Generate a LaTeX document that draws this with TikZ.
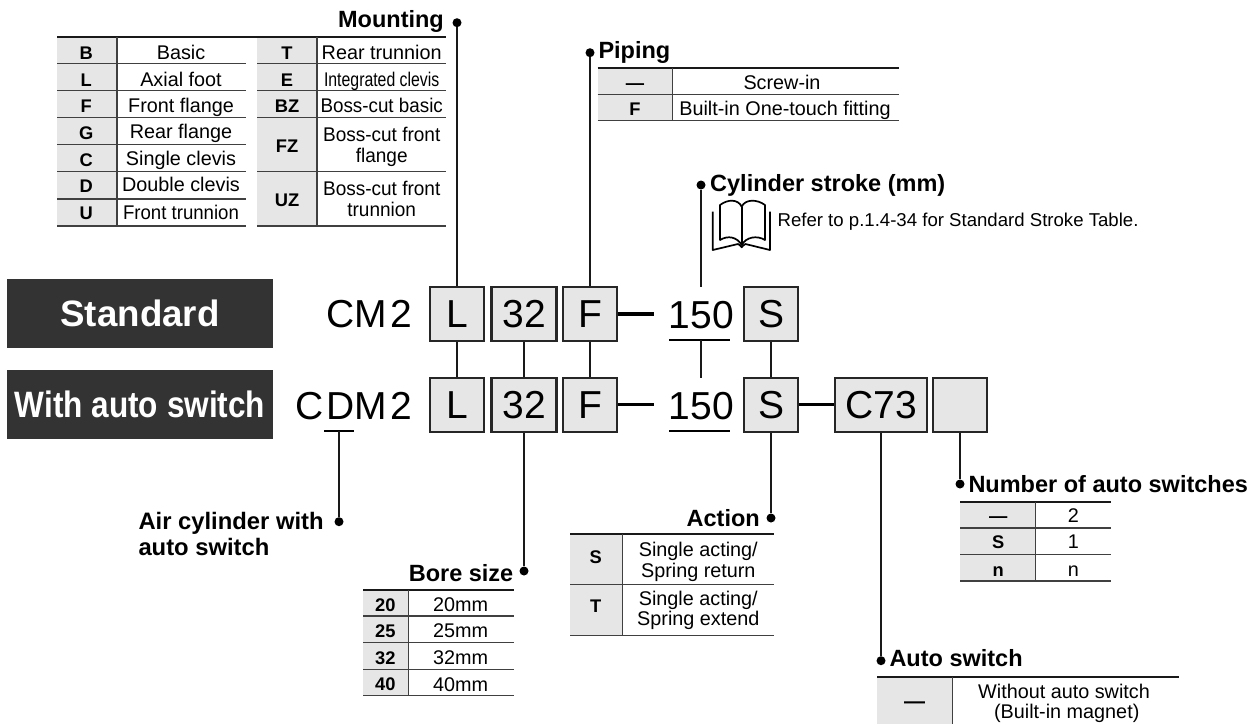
\documentclass[tikz,border=0pt]{standalone}
\usepackage{fontspec}
\setmainfont{Liberation Sans}
\definecolor{banner}{HTML}{333333}
\definecolor{cellgray}{HTML}{E6E6E6}
\tikzstyle{txt}=[font=\fontsize{19.8}{20.5}\selectfont,anchor=base,inner sep=0pt]
\tikzstyle{keytxt}=[font=\fontsize{18.3}{20.5}\selectfont\bfseries,anchor=base,inner sep=0pt]
\tikzstyle{titletxt}=[font=\fontsize{23.5}{26}\selectfont\bfseries,anchor=base,inner sep=0pt]
\tikzstyle{codetxt}=[font=\fontsize{39}{42}\selectfont,anchor=base,inner sep=0pt]
\tikzstyle{partbox}=[draw=black!85,line width=2.2pt,fill=cellgray,minimum height=54pt,inner sep=0pt,font=\fontsize{39}{42}\selectfont]
\tikzstyle{series}=[fill=banner,text=white,inner sep=0pt,font=\fontsize{36.7}{40}\selectfont\bfseries]
\tikzstyle{pindot}=[circle,fill=black,minimum size=9pt,inner sep=0pt]
\tikzstyle{lead}=[draw=black!90,line width=2.1pt]
\tikzstyle{bar}=[draw=black,line width=3.2pt]
\tikzstyle{toprule}=[draw=black!90,line width=2pt]
\tikzstyle{midrule}=[draw=black!75,line width=1.2pt]
\tikzstyle{cellfill}=[fill=cellgray]
\tikzstyle{bookline}=[draw=black,line width=1.7pt,line join=round]

\begin{document}
\begin{tikzpicture}[x=1pt,y=-1pt]
\useasboundingbox (0,0) rectangle (1258,724);

% series banners
\node[series,minimum width=266pt,minimum height=68.7pt] (std) at (140,313.3) {};
\node[series,minimum width=266pt,minimum height=69pt] (sw) at (140,404.5) {};
\node[series,anchor=base] (stdt) at (140,326) {Standard};
\node[series,anchor=base] (swt) at (140,417.3) {\scalebox{0.86}[1]{With auto switch}};

% model code, upper row
\node[codetxt,anchor=base east] (cm) at (412,327.3) {CM\kern3pt 2};
\node[partbox,minimum width=54pt] (L1) at (457,313.7) {L};
\node[partbox,minimum width=65pt] (B1) at (524,313.7) {32};
\node[partbox,minimum width=54pt] (F1) at (590,313.7) {F};
\node[codetxt] (st1) at (701.5,328.3) {150};
\node[partbox,minimum width=54pt] (S1) at (771,313.7) {S};

% model code, lower row
\node[codetxt,anchor=base east] (cdm) at (412,419) {C\kern3pt DM\kern3pt 2};
\node[partbox,minimum width=54pt] (L2) at (457,404.7) {L};
\node[partbox,minimum width=65pt] (B2) at (524,404.7) {32};
\node[partbox,minimum width=54pt] (F2) at (590,404.7) {F};
\node[codetxt] (st2) at (701.5,419) {150};
\node[partbox,minimum width=54pt] (S2) at (771,404.7) {S};
\node[partbox,minimum width=92pt] (C2) at (881,404.7) {C73};
\node[partbox,minimum width=54pt] (N2) at (960,404.7) {};

% underlines and free line ends
\coordinate (st1a) at (669,340);
\coordinate (st1b) at (729.5,340);
\coordinate (st1c) at (701,340);
\coordinate (st1t) at (701,286.5);
\coordinate (st2a) at (669,431);
\coordinate (st2b) at (729.5,431);
\coordinate (st2c) at (701,378);
\coordinate (da) at (324,431);
\coordinate (db) at (354,431);
\coordinate (dc) at (339,431);
\coordinate (d1) at (653.7,313.5);
\coordinate (d2) at (653.7,404.5);
\path[midrule,line width=1.8pt,draw=black] (st1a) -- (st1b);
\path[midrule,line width=1.8pt,draw=black] (st2a) -- (st2b);
\path[midrule,line width=1.8pt,draw=black] (da) -- (db);
\path[bar,line width=4pt] (F1.east |- d1) -- (d1);
\path[bar] (F2.east |- d2) -- (d2);
\path[bar] (S2.east) -- (C2.west);

% pins
\node[pindot] (pmount) at (457,22.7) {};
\node[pindot] (ppipe) at (590,52.7) {};
\node[pindot] (pstroke) at (701,185) {};
\node[pindot] (pair) at (339,521.7) {};
\node[pindot] (pbore) at (524,571) {};
\node[pindot] (pact) at (771,518) {};
\node[pindot] (pnum) at (960,484) {};
\node[pindot] (psw) at (881,660.7) {};

% leads
\path[lead] (pmount) -- (L1.north);
\path[lead] (ppipe) -- (F1.north);
\path[lead] (pstroke) -- (st1t);
\path[lead] (L1.south) -- (L2.north);
\path[lead] (B1.south) -- (B2.north);
\path[lead] (F1.south) -- (F2.north);
\path[lead] (st1c) -- (st2c);
\path[lead] (S1.south) -- (S2.north);
\path[lead] (dc) -- (pair);
\path[lead] (B2.south) -- (pbore);
\path[lead] (S2.south) -- (pact);
\path[lead] (C2.south) -- (psw);
\path[lead] (N2.south) -- (pnum);

% Mounting
\node[titletxt,anchor=base east] (tmount) at (444,27.3) {Mounting};
\fill[cellfill] (57,37) rectangle (117,226);
\fill[cellfill] (257,37) rectangle (317,226);
\path[toprule] (57,36.7) -- (446,36.7);
\path[midrule] (57,63.3) -- (245.7,63.3);
\path[midrule] (57,90.3) -- (245.7,90.3);
\path[midrule] (57,117.3) -- (245.7,117.3);
\path[midrule] (57,144.7) -- (245.7,144.7);
\path[midrule] (57,171.7) -- (245.7,171.7);
\path[midrule] (57,199) -- (245.7,199);
\path[midrule] (57,226) -- (245.7,226);
\path[midrule] (257,63.3) -- (446,63.3);
\path[midrule] (257,90.3) -- (446,90.3);
\path[midrule] (257,117.3) -- (446,117.3);
\path[midrule] (257,171.7) -- (446,171.7);
\path[midrule] (257,226) -- (446,226);
\path[midrule] (117,37) -- (117,226);
\path[midrule] (317,37) -- (317,226);
\node[keytxt] (kB) at (86.3,59.5) {B};
\node[keytxt] (kL) at (86.3,86.5) {L};
\node[keytxt] (kF) at (86.3,112.5) {F};
\node[keytxt] (kG) at (86.3,139.5) {G};
\node[keytxt] (kC) at (86.3,166) {C};
\node[keytxt] (kD) at (86.3,192.5) {D};
\node[keytxt] (kU) at (86.3,219.5) {U};
\node[txt] (vB) at (181,59) {Basic};
\node[txt] (vL) at (181,86) {Axial foot};
\node[txt] (vF) at (181,112) {Front flange};
\node[txt] (vG) at (181,138.7) {Rear flange};
\node[txt] (vC) at (181,165.7) {Single clevis};
\node[txt] (vD) at (181,191.7) {Double clevis};
\node[txt] (vU) at (181,219) {\scalebox{0.94}[1]{Front trunnion}};
\node[keytxt] (kT) at (287,59.5) {T};
\node[keytxt] (kE) at (287,86.5) {E};
\node[keytxt] (kBZ) at (287,112.5) {BZ};
\node[keytxt] (kFZ) at (287,152.7) {FZ};
\node[keytxt] (kUZ) at (287,206.7) {UZ};
\node[txt] (vT) at (381.7,59) {Rear trunnion};
\node[txt] (vE) at (381.7,86) {\scalebox{0.8}[1]{Integrated clevis}};
\node[txt] (vBZ) at (381.7,112) {\scalebox{0.95}[1]{Boss-cut basic}};
\node[txt,align=center] (vFZ) at (381.7,162) {\scalebox{0.96}[1]{Boss-cut front}\\\scalebox{0.96}[1]{flange}};
\node[txt,align=center] (vUZ) at (381.7,216.2) {\scalebox{0.96}[1]{Boss-cut front}\\\scalebox{0.96}[1]{trunnion}};

% Piping
\node[titletxt,anchor=base west] (tpipe) at (598.3,58.3) {Piping};
\fill[cellfill] (597.5,68) rectangle (672.6,120.7);
\path[toprule] (597.5,67.7) -- (899,67.7);
\path[midrule] (597.5,94.3) -- (899,94.3);
\path[midrule] (597.5,120.7) -- (899,120.7);
\path[midrule] (672.6,68) -- (672.6,120.7);
\node[keytxt] (kpa) at (635,89.3) {—};
\node[keytxt] (kpb) at (635,115.3) {F};
\node[txt] (vpa) at (782,89.3) {Screw-in};
\node[txt] (vpb) at (785,115.3) {Built-in One-touch fitting};

% Cylinder stroke
\node[titletxt,anchor=base west] (tstroke) at (710,191.7) {Cylinder stroke (mm)};
\path[bookline,fill=white] (712.7,211.7) -- (712.7,250) -- (738,244) .. controls (740,244) and (741,247.3) .. (741.7,247.3) .. controls (742.4,247.3) and (743.4,244) .. (745.4,244) -- (770,250) -- (770,211.7);
\path[bookline,fill=white] (720,205) .. controls (728,199) and (738,199) .. (741.7,206.7) .. controls (745,199) and (757,199) .. (765,205) -- (765,240) .. controls (757,235) and (746,237) .. (741.7,245) .. controls (737,237) and (728,235) .. (720,240) -- cycle;
\path[bookline] (741.7,206.7) -- (741.7,245);
\node[txt,anchor=base west,font=\fontsize{18.6}{20.5}\selectfont] (vstroke) at (777.4,226.7) {Refer to p.1.4-34 for Standard Stroke Table.};

% Air cylinder with auto switch
\node[titletxt,anchor=base west,align=left,font=\fontsize{23.8}{26}\selectfont\bfseries] (tair) at (138.3,555.3) {Air cylinder with\\auto switch};

% Bore size
\node[titletxt,anchor=base east] (tbore) at (513.5,581.7) {Bore size};
\fill[cellfill] (363.3,590) rectangle (408.3,695.7);
\path[toprule] (363.3,589.7) -- (514,589.7);
\path[midrule] (363.3,616) -- (514,616);
\path[midrule] (363.3,642.7) -- (514,642.7);
\path[midrule] (363.3,669.3) -- (514,669.3);
\path[midrule] (363.3,695.7) -- (514,695.7);
\path[midrule] (408.3,590) -- (408.3,695.7);
\node[keytxt] (k20) at (385.3,611) {20};
\node[keytxt] (k25) at (385.3,637) {25};
\node[keytxt] (k32) at (385.3,664) {32};
\node[keytxt] (k40) at (385.3,690.5) {40};
\node[txt] (v20) at (460.7,611.3) {20mm};
\node[txt] (v25) at (460.7,637.7) {25mm};
\node[txt] (v32) at (460.7,664.3) {32mm};
\node[txt] (v40) at (460.7,691) {40mm};

% Action
\node[titletxt,anchor=base east] (tact) at (760,526.7) {Action};
\fill[cellfill] (570,534) rectangle (622.3,635.3);
\path[toprule] (570,534) -- (774,534);
\path[midrule] (570,584.7) -- (774,584.7);
\path[midrule] (570,635.3) -- (774,635.3);
\path[midrule] (622.3,534) -- (622.3,635.3);
\node[keytxt] (kS) at (595.7,563.7) {S};
\node[keytxt] (kTe) at (595.7,612) {T};
\node[txt,align=center] (vS) at (698.3,577) {Single acting/\\Spring return};
\node[txt,align=center] (vTe) at (698.3,625.5) {Single acting/\\Spring extend};

% Number of auto switches
\node[titletxt,anchor=base west] (tnum) at (968.3,492.3) {Number of auto switches};
\fill[cellfill] (960,502) rectangle (1035.7,581);
\path[toprule] (960,501.7) -- (1111.3,501.7);
\path[midrule] (960,528) -- (1111.3,528);
\path[midrule] (960,554.3) -- (1111.3,554.3);
\path[midrule] (960,581) -- (1111.3,581);
\path[midrule] (1035.7,502) -- (1035.7,581);
\node[keytxt] (kna) at (998.3,522) {—};
\node[keytxt] (knb) at (998.3,548.7) {S};
\node[keytxt] (knc) at (998.3,576) {n};
\node[txt] (vna) at (1073.3,522) {2};
\node[txt] (vnb) at (1073.3,548.7) {1};
\node[txt] (vnc) at (1073.3,576) {n};

% Auto switch
\node[titletxt,anchor=base west] (tsw) at (889.3,666.7) {Auto switch};
\fill[cellfill] (877,677) rectangle (952.7,724);
\path[toprule] (877,676.7) -- (1179.3,676.7);
\path[midrule] (952.7,677) -- (952.7,724);
\node[keytxt,font=\fontsize{21}{22}\selectfont\bfseries] (kswa) at (914.7,708) {—};
\node[txt,align=center] (vswa) at (1064,718.5) {Without auto switch\\\ (Built-in magnet)};
\end{tikzpicture}
\end{document}
